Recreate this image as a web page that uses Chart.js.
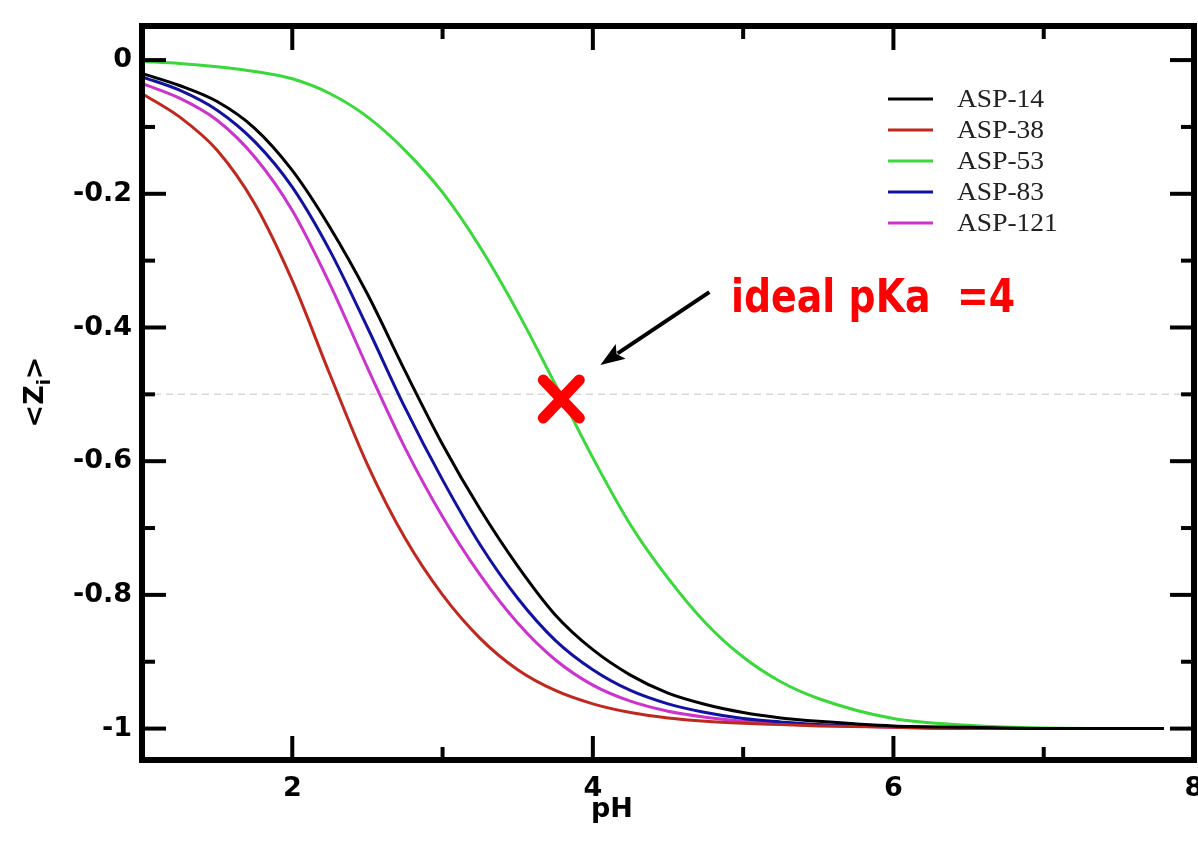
<!DOCTYPE html>
<html>
<head>
<meta charset="utf-8">
<title>ASP titration curves</title>
<script src="https://cdn.jsdelivr.net/npm/chart.js@4.4.1/dist/chart.umd.min.js"></script>
<style>
  html, body { margin: 0; padding: 0; background: #fff; }
  #wrap { width: 1198px; height: 847px; }
</style>
</head>
<body>
<div id="wrap"><canvas id="pkaChart" width="1198" height="847"></canvas></div>
<script>
// pH grid shared by all curves
const phValues = [1, 1.25, 1.5, 1.75, 2, 2.25, 2.5, 2.75, 3, 3.25, 3.5, 3.75, 4, 4.25, 4.5, 4.75, 5, 5.25, 5.5, 6, 6.5, 7, 7.8];

// <Z_i> for each residue
const asp14  = [-0.020, -0.038, -0.062, -0.102, -0.165, -0.250, -0.350, -0.465, -0.575, -0.672, -0.757, -0.830, -0.882, -0.920, -0.947, -0.964, -0.976, -0.984, -0.989, -0.996, -0.998, -1.000, -1.000];
const asp38  = [-0.050, -0.085, -0.135, -0.215, -0.330, -0.470, -0.605, -0.715, -0.800, -0.865, -0.912, -0.943, -0.963, -0.976, -0.984, -0.989, -0.992, -0.994, -0.996, -0.998, -1.000, -1.000, -1.000];
const asp53  = [-0.002, -0.005, -0.010, -0.017, -0.028, -0.050, -0.085, -0.135, -0.198, -0.280, -0.377, -0.485, -0.595, -0.695, -0.775, -0.842, -0.893, -0.930, -0.955, -0.985, -0.995, -0.999, -1.000];
const asp83  = [-0.025, -0.045, -0.075, -0.122, -0.190, -0.285, -0.400, -0.520, -0.628, -0.725, -0.805, -0.868, -0.912, -0.943, -0.963, -0.976, -0.985, -0.990, -0.994, -0.997, -0.999, -1.000, -1.000];
const asp121 = [-0.035, -0.057, -0.090, -0.145, -0.225, -0.335, -0.460, -0.580, -0.683, -0.770, -0.842, -0.897, -0.935, -0.959, -0.974, -0.983, -0.989, -0.993, -0.995, -0.998, -1.000, -1.000, -1.000];

const seriesLabels = ['ASP-14', 'ASP-38', 'ASP-53', 'ASP-83', 'ASP-121'];
const seriesValues = [asp14, asp38, asp53, asp83, asp121];
const seriesColors = ['#000000', '#c0281e', '#3ad83a', '#1212a0', '#cc33cc'];

const xTickValues = [2, 4, 6, 8];
const xMinorValues = [3, 5, 7];
const yTickValues = [0, -0.2, -0.4, -0.6, -0.8, -1];
const yMinorValues = [-0.1, -0.3, -0.5, -0.7, -0.9];

// annotation: the ideal pKa marker
const idealPoint = { x: 3.79, y: -0.507 };
const arrowFrom = { x: 4.775, y: -0.347 };
const arrowTo = { x: 4.05, y: -0.456 };
const noteText = 'ideal pKa  =4';

const TICK_FONT = 'bold 27px "DejaVu Sans"';

// frame, mirrored inward ticks, legend and annotation, xmgrace style
const gracePlot = {
  id: 'gracePlot',
  beforeDatasetsDraw(chart) {
    const { ctx, chartArea: a, scales: { y } } = chart;
    const yy = y.getPixelForValue(-0.5);
    ctx.save();
    ctx.strokeStyle = '#d8d8d8';
    ctx.lineWidth = 1.5;
    ctx.setLineDash([7, 5]);
    ctx.beginPath();
    ctx.moveTo(a.left, yy);
    ctx.lineTo(a.right, yy);
    ctx.stroke();
    ctx.restore();
  },
  afterDraw(chart) {
    const { ctx, chartArea: a, scales: { x, y } } = chart;
    ctx.save();

    // ticks
    ctx.strokeStyle = '#000';
    ctx.lineWidth = 4;
    const tick = (x1, y1, x2, y2) => { ctx.beginPath(); ctx.moveTo(x1, y1); ctx.lineTo(x2, y2); ctx.stroke(); };
    xTickValues.concat(xMinorValues).forEach(v => {
      const px = x.getPixelForValue(v);
      const len = xTickValues.includes(v) ? 24 : 13;
      tick(px, a.bottom, px, a.bottom - len);
      tick(px, a.top, px, a.top + len);
    });
    yTickValues.concat(yMinorValues).forEach(v => {
      const py = y.getPixelForValue(v);
      const len = yTickValues.includes(v) ? 24 : 13;
      tick(a.left, py, a.left + len, py);
      tick(a.right, py, a.right - len, py);
    });

    // frame
    ctx.lineWidth = 6;
    ctx.strokeRect(a.left, a.top, a.right - a.left, a.bottom - a.top);

    // legend
    ctx.font = '25px "Liberation Serif"';
    ctx.textBaseline = 'middle';
    chart.data.datasets.forEach((ds, i) => {
      const ly = 99 + i * 31;
      ctx.strokeStyle = ds.borderColor;
      ctx.lineWidth = 3;
      tick(888, ly, 933, ly);
      ctx.save();
      ctx.translate(957, ly + 1);
      ctx.scale(1.1, 1);
      ctx.fillStyle = '#222';
      ctx.fillText(ds.label, 0, 0);
      ctx.restore();
    });

    // axis titles
    ctx.fillStyle = '#000';
    ctx.font = TICK_FONT;
    ctx.textAlign = 'center';
    ctx.fillText('pH', 612, 810);

    ctx.save();
    ctx.translate(36, 392);
    ctx.rotate(-Math.PI / 2);
    ctx.textAlign = 'left';
    const w1 = ctx.measureText('<Z').width;
    ctx.font = 'bold 18px "DejaVu Sans"';
    const w2 = ctx.measureText('i').width;
    ctx.font = TICK_FONT;
    const w3 = ctx.measureText('>').width;
    let start = -(w1 + w2 + w3) / 2;
    ctx.fillText('<Z', start, 0);
    ctx.font = 'bold 18px "DejaVu Sans"';
    ctx.fillText('i', start + w1, 9);
    ctx.font = TICK_FONT;
    ctx.fillText('>', start + w1 + w2, 0);
    ctx.restore();

    // red cross on the green curve
    const cx = x.getPixelForValue(idealPoint.x);
    const cy = y.getPixelForValue(idealPoint.y);
    ctx.strokeStyle = '#ff0000';
    ctx.lineWidth = 11;
    ctx.lineCap = 'round';
    tick(cx - 18, cy - 19, cx + 18, cy + 19);
    tick(cx + 18, cy - 19, cx - 18, cy + 19);

    // arrow
    const ax1 = x.getPixelForValue(arrowFrom.x), ay1 = y.getPixelForValue(arrowFrom.y);
    const ax2 = x.getPixelForValue(arrowTo.x), ay2 = y.getPixelForValue(arrowTo.y);
    const ang = Math.atan2(ay2 - ay1, ax2 - ax1);
    const head = 26;
    ctx.strokeStyle = '#000';
    ctx.lineWidth = 4;
    ctx.lineCap = 'butt';
    tick(ax1, ay1, ax2 - Math.cos(ang) * head * 0.8, ay2 - Math.sin(ang) * head * 0.8);
    ctx.fillStyle = '#000';
    ctx.beginPath();
    ctx.moveTo(ax2, ay2);
    ctx.lineTo(ax2 - head * Math.cos(ang - 0.35), ay2 - head * Math.sin(ang - 0.35));
    ctx.lineTo(ax2 - head * 0.75 * Math.cos(ang), ay2 - head * 0.75 * Math.sin(ang));
    ctx.lineTo(ax2 - head * Math.cos(ang + 0.35), ay2 - head * Math.sin(ang + 0.35));
    ctx.closePath();
    ctx.fill();

    // note
    ctx.font = 'bold 46px "DejaVu Sans"';
    ctx.textAlign = 'left';
    ctx.textBaseline = 'alphabetic';
    const tw = ctx.measureText(noteText).width;
    ctx.translate(731, 312);
    ctx.scale(284 / tw, 1);
    ctx.fillStyle = '#ff0000';
    ctx.fillText(noteText, 0, 0);

    ctx.restore();
  }
};

new Chart(document.getElementById('pkaChart'), {
  type: 'line',
  data: {
    datasets: seriesLabels.map((label, i) => ({
      label,
      data: phValues.map((ph, j) => ({ x: ph, y: seriesValues[i][j] })),
      borderColor: seriesColors[i],
      borderWidth: 3,
      pointRadius: 0,
      fill: false,
      cubicInterpolationMode: 'monotone'
    }))
  },
  options: {
    responsive: false,
    animation: false,
    layout: { padding: { top: 26, right: 4, left: 0, bottom: 0 } },
    plugins: { legend: { display: false }, tooltip: { enabled: false } },
    scales: {
      x: {
        type: 'linear',
        min: 1,
        max: 8,
        grid: { display: false, drawTicks: false },
        border: { display: false },
        afterBuildTicks: s => { s.ticks = xTickValues.map(v => ({ value: v })); },
        afterFit: s => { s.height = 87; s.paddingRight = 0; s.paddingLeft = 0; },
        ticks: { color: '#000', font: { family: 'DejaVu Sans', size: 27, weight: 'bold' }, padding: 13, maxRotation: 0 }
      },
      y: {
        type: 'linear',
        min: -1.047,
        max: 0.051,
        grid: { display: false, drawTicks: false },
        border: { display: false },
        afterBuildTicks: s => { s.ticks = yTickValues.map(v => ({ value: v })); },
        afterFit: s => { s.width = 142; s.paddingTop = 0; s.paddingBottom = 0; },
        ticks: { color: '#000', font: { family: 'DejaVu Sans', size: 27, weight: 'bold' }, padding: 10, callback: v => String(Math.round(v * 10) / 10) }
      }
    }
  },
  plugins: [gracePlot]
});
</script>
</body>
</html>
